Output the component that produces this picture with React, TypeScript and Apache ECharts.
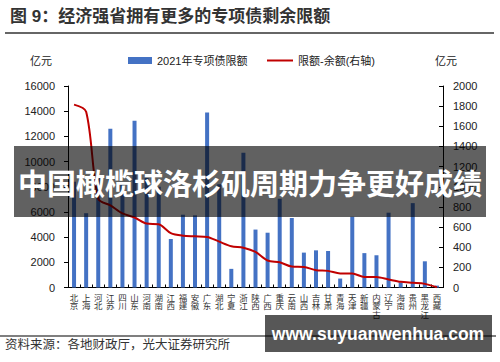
import React, { useEffect, useRef } from "react";
import * as echarts from "echarts";

const categories = [
  "北京", "上海", "河北", "江苏", "四川", "山东", "河南", "湖南", "江西", "福建",
  "安徽", "广东", "湖北", "宁夏", "浙江", "陕西", "广西", "重庆", "云南", "山西",
  "吉林", "甘肃", "青海", "天津", "新疆", "内蒙古", "辽宁", "海南", "贵州", "黑龙江", "西藏",
];
const limit2021 = [
  8400, 5900, 8800, 12600, 8300, 13250, 8700, 8000, 3850, 5780,
  5730, 13900, 8200, 1480, 10700, 4600, 4350, 7050, 5520, 2770,
  2950, 2900, 710, 5620, 2730, 2560, 5940, 400, 6700, 2080, 150,
];
const remaining = [
  1815, 1745, 880, 815, 735, 695, 635, 628, 540, 514,
  508, 502, 455, 410, 395, 353, 268, 250, 208, 204,
  172, 165, 139, 139, 105, 105, 80, 56, 46, 36, 3,
];
const leftTicks = { min: 0, max: 16000, interval: 2000 };
const rightTicks = { min: 0, max: 2000, interval: 200 };

const FONT = "'Liberation Sans', 'Noto Sans CJK SC', sans-serif";

export default function App() {
  const ref = useRef<HTMLDivElement>(null);
  useEffect(() => {
    if (!ref.current) return;
    const chart = echarts.init(ref.current, undefined, { renderer: "svg" });
    chart.setOption({
      animation: false,
      backgroundColor: "#fff",
      textStyle: { fontFamily: FONT },
      title: {
        text: "图 9：经济强省拥有更多的专项债剩余限额",
        left: 5,
        top: 3,
        textStyle: { fontSize: 17, fontWeight: "bold", color: "#333", fontFamily: FONT },
      },
      legend: [
        {
          data: [{ name: "2021年专项债限额", icon: "rect" }],
          left: 128,
          top: 55,
          padding: 0,
          itemWidth: 24,
          itemHeight: 7,
          textStyle: { fontSize: 11, color: "#222", fontFamily: FONT },
        },
        {
          data: [{ name: "限额-余额(右轴)", icon: "rect" }],
          left: 267,
          top: 55,
          padding: 0,
          itemWidth: 26,
          itemHeight: 2,
          textStyle: { fontSize: 11, color: "#222", fontFamily: FONT },
        },
      ],
      grid: { left: 68, right: 57, top: 86, bottom: 74.5, containLabel: false },
      xAxis: {
        type: "category",
        data: categories,
        axisLine: { lineStyle: { color: "#000", width: 1 } },
        axisTick: { show: true, inside: true, length: 3, lineStyle: { color: "#000" } },
        axisLabel: {
          interval: 0,
          fontSize: 8.5,
          lineHeight: 8.5,
          margin: 6,
          color: "#333",
          fontFamily: FONT,
          formatter: (v: string) => v.split("").join("\n"),
        },
      },
      yAxis: [
        {
          type: "value",
          ...leftTicks,
          axisLine: { show: true, lineStyle: { color: "#000" } },
          axisTick: { show: true, length: 4, lineStyle: { color: "#000" } },
          splitLine: { show: false },
          axisLabel: { fontSize: 11, color: "#222", margin: 13, fontFamily: FONT, formatter: (v: number) => String(v) },
        },
        {
          type: "value",
          position: "right",
          ...rightTicks,
          axisLine: { show: true, lineStyle: { color: "#000" } },
          axisTick: { show: true, inside: true, length: 4, lineStyle: { color: "#000" } },
          splitLine: { show: false },
          axisLabel: { fontSize: 11, color: "#222", margin: 10, fontFamily: FONT, formatter: (v: number) => String(v) },
        },
      ],
      series: [
        {
          name: "2021年专项债限额",
          type: "bar",
          yAxisIndex: 0,
          data: limit2021,
          barWidth: 4,
          itemStyle: { color: "#4472C4" },
        },
        {
          name: "限额-余额(右轴)",
          type: "line",
          yAxisIndex: 1,
          data: remaining,
          smooth: 0.3,
          symbol: "none",
          z: 5,
          lineStyle: { color: "#C00000", width: 2 },
          itemStyle: { color: "#C00000" },
        },
      ],
      graphic: [
        { type: "line", z: 50, shape: { x1: 5, y1: 33, x2: 494, y2: 33 }, style: { stroke: "#666", lineWidth: 2 } },
        { type: "text", z: 50, x: 30, y: 61, style: { text: "亿元", fill: "#222", font: `11px ${FONT}`, textVerticalAlign: "middle" } },
        { type: "text", z: 50, x: 435, y: 61, style: { text: "亿元", fill: "#222", font: `11px ${FONT}`, textVerticalAlign: "middle" } },
        { type: "line", z: 50, shape: { x1: 0, y1: 336, x2: 496, y2: 336 }, style: { stroke: "#555", lineWidth: 1.5 } },
        { type: "text", z: 50, x: 5, y: 345, style: { text: "资料来源：各地财政厅，光大证券研究所", fill: "#333", font: `12.5px ${FONT}`, textVerticalAlign: "middle" } },
        { type: "rect", z: 100, shape: { x: 14, y: 146, width: 472, height: 71 }, style: { fill: "rgba(0,0,0,0.62)" } },
        { type: "text", z: 101, x: 250, y: 182, style: { text: "中国橄榄球洛杉矶周期力争更好成绩", fill: "#fff", font: `bold 29px 'Noto Sans CJK SC', sans-serif`, textAlign: "center", textVerticalAlign: "middle" } },
        { type: "rect", z: 100, shape: { x: 265, y: 315, width: 227, height: 37 }, style: { fill: "rgba(0,0,0,0.66)" } },
        { type: "text", z: 101, x: 378, y: 334, style: { text: "www.suyuanwenhua.com", fill: "#fff", font: `bold 17.5px 'Liberation Sans', sans-serif`, textAlign: "center", textVerticalAlign: "middle" } },
      ],
    });
    return () => chart.dispose();
  }, []);
  return (
    <div
      ref={ref}
      style={{ position: "fixed", left: 0, top: 0, width: 500, height: 362 }}
    />
  );
}
